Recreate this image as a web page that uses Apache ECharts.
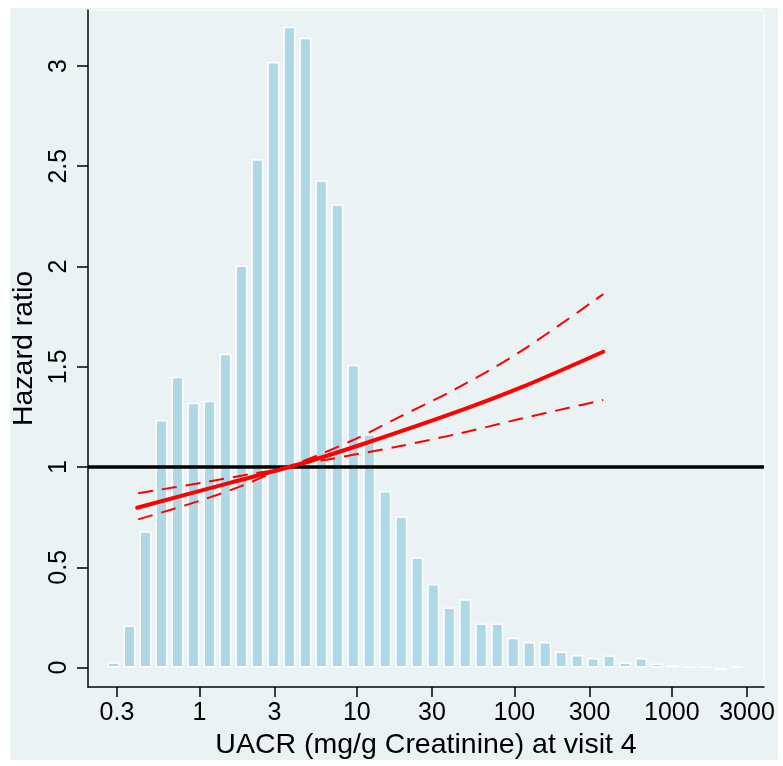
<!DOCTYPE html>
<html>
<head>
<meta charset="utf-8">
<script src="https://cdn.jsdelivr.net/npm/echarts@6/dist/echarts.min.js"></script>
<style>
html,body{margin:0;padding:0;background:#ffffff;width:783px;height:766px;overflow:hidden;}
#chart{position:absolute;left:10px;top:8px;width:768px;height:752px;background:#eaf2f3;}
</style>
</head>
<body>
<div id="chart"></div>
<script>
// Histogram bins (bin centre in mg/g) and bar heights
const binCenters = [0.285,0.360,0.455,0.575,0.726,0.917,1.159,1.464,1.849,2.336,
  2.951,3.728,4.710,5.950,7.516,9.495,11.99,15.15,19.14,24.18,
  30.55,38.59,48.75,61.58,77.80,98.28,124.2,156.9,198.2,250.3,
  316.2,399.5,504.7,637.5,805.4,1017,1285,1624,2051,2591];
const barHeights = [0.027,0.21,0.68,1.235,1.45,1.32,1.33,1.565,2.005,2.535,
  3.02,3.195,3.14,2.43,2.31,1.51,1.165,0.88,0.755,0.55,
  0.417,0.30,0.34,0.22,0.22,0.148,0.127,0.127,0.08,0.063,
  0.048,0.06,0.025,0.047,0.02,0.013,0.003,0.003,-0.012,0.005];

// Hazard ratio curve and 95% CI
const hrX = [0.403,1.56,4.36,12.1,45.3,111.3,366.7];
const hrY = [0.797,0.921,1.015,1.126,1.281,1.398,1.575];
const upX = [0.409,1.04,2.12,3.60,9.27,18.8,42.2,109,366.7];
const upY = [0.869,0.922,0.965,1.0,1.131,1.251,1.388,1.575,1.862];
const loX = [0.409,1.01,1.98,3.60,6.27,17.9,45.2,106,215,366.7];
const loY = [0.739,0.832,0.914,1.0,1.035,1.101,1.168,1.238,1.293,1.334];

const xTickValues = [0.3,1,3,10,30,100,300,1000,3000];
const xTickLabels = ['0.3','1','3','10','30','100','300','1000','3000'];
const yTickValues = [0,0.5,1,1.5,2,2.5,3];
const yTickLabels = ['0','0.5','1','1.5','2','2.5','3'];
const refLine = 1;

const FONT = '"Liberation Sans", Arial, Helvetica, sans-serif';
const lg = v => Math.log10(v);
const xTickLogs = xTickValues.map(lg);

const chart = echarts.init(document.getElementById('chart'), null, {renderer:'canvas'});
chart.setOption({
  animation: false,
  backgroundColor: '#eaf2f3',
  grid: {left: 78, top: 2, width: 676, height: 677, show: true, outerBoundsMode: 'none',
         backgroundColor: '#eaf2f3', borderColor: '#ffffff', borderWidth: 1, containLabel: false},
  xAxis: {
    type: 'value', min: -0.707, max: 3.585,
    name: 'UACR (mg/g Creatinine) at visit 4',
    nameLocation: 'middle', nameGap: 44,
    nameTextStyle: {fontFamily: FONT, fontSize: 28.5, color: '#000'},
    axisLine: {show: true, onZero: false, lineStyle: {color: '#000', width: 1.5}},
    axisTick: {show: true, length: 10, customValues: xTickLogs, lineStyle: {color: '#000', width: 1.5}},
    axisLabel: {show: true, customValues: xTickLogs, margin: 14, fontFamily: FONT, fontSize: 25, color: '#000',
      formatter: v => {
        let best = 0, bd = 1e9;
        xTickLogs.forEach((t,i)=>{ const d = Math.abs(t-v); if (d<bd){bd=d;best=i;} });
        return xTickLabels[best];
      }},
    splitLine: {show: false}
  },
  yAxis: {
    type: 'value', min: -0.097, max: 3.279,
    name: 'Hazard ratio', nameLocation: 'middle', nameGap: 44, nameRotate: 90,
    nameTextStyle: {fontFamily: FONT, fontSize: 28.5, color: '#000'},
    axisLine: {show: true, onZero: false, lineStyle: {color: '#000', width: 1.5}},
    axisTick: {show: true, length: 11, customValues: yTickValues, lineStyle: {color: '#000', width: 1.5}},
    axisLabel: {show: true, customValues: yTickValues, rotate: 90, margin: 16, fontFamily: FONT, fontSize: 25, color: '#000',
      formatter: v => {
        let best = 0, bd = 1e9;
        yTickValues.forEach((t,i)=>{ const d = Math.abs(t-v); if (d<bd){bd=d;best=i;} });
        return yTickLabels[best];
      }},
    splitLine: {show: false}
  },
  series: [
    {
      type: 'bar', barWidth: 12, z: 2,
      itemStyle: {color: '#add8e6', borderColor: '#ffffff', borderWidth: 1.5},
      data: binCenters.map((c,i)=>[lg(c), barHeights[i]])
    },
    {
      type: 'line', z: 3, symbol: 'none', silent: true,
      lineStyle: {color: '#000', width: 3.5},
      data: [[-0.707, refLine],[3.585, refLine]]
    },
    {
      type: 'line', z: 4, symbol: 'none', smooth: 0.3,
      lineStyle: {color: '#ff0000', width: 2, type: [15, 9]},
      data: upX.map((x,i)=>[lg(x), upY[i]])
    },
    {
      type: 'line', z: 4, symbol: 'none', smooth: 0.3,
      lineStyle: {color: '#ff0000', width: 2, type: [15, 9]},
      data: loX.map((x,i)=>[lg(x), loY[i]])
    },
    {
      type: 'line', z: 5, symbol: 'none', smooth: 0.3,
      lineStyle: {color: '#ff0000', width: 4, cap: 'round'},
      data: hrX.map((x,i)=>[lg(x), hrY[i]])
    }
  ]
});
</script>
</body>
</html>
